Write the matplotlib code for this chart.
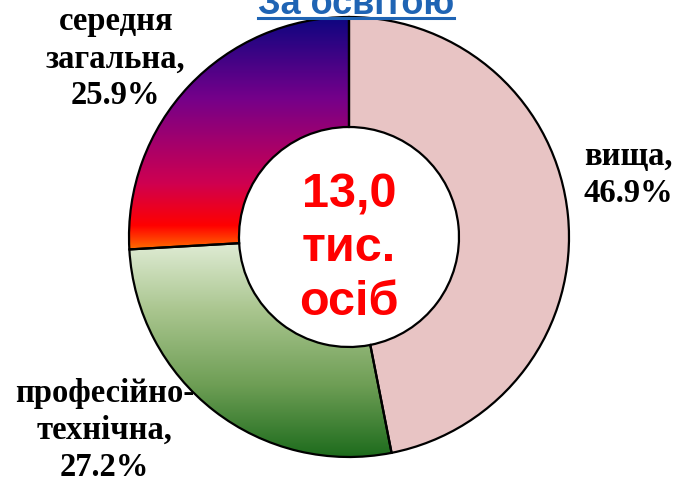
import numpy as np
import matplotlib.pyplot as plt
from matplotlib.colors import LinearSegmentedColormap
from matplotlib.lines import Line2D

# Data
categories = ['вища', 'професійно-\nтехнічна', 'середня\nзагальна']
shares = [46.9, 27.2, 25.9]
total_label = '13,0\nтис.\nосіб'
title = 'За освітою'

# label centres (data units, radius of ring = 1)
label_xy = [(1.27, 0.28), (-1.11, -0.88), (-1.06, 0.81)]

# fills: solid pink, green gradient, navy-red-orange gradient (top -> bottom)
pink = '#E8C4C4'
green_stops = ['#E4EFDA', '#A9C58E', '#6E9E55', '#1B6A1B']
dark_stops = [(0.0, '#0C0680'), (0.35, '#74008A'), (0.72, '#CF0050'),
              (0.9, '#FF0000'), (1.0, '#FF6A00')]

W, H = 677, 482
cx, cy, R = 349, 237, 220   # pixel centre and radius of the ring

fig = plt.figure(figsize=(W / 100, H / 100), dpi=100)
ax = fig.add_axes([0, 0, 1, 1])

wedges, _ = ax.pie(shares, startangle=90, counterclock=False, radius=1,
                   colors=[pink, 'none', 'none'],
                   wedgeprops=dict(width=0.5, edgecolor='black', linewidth=1.6))


def gradient_fill(wedge, cmap):
    v = wedge.get_path().vertices
    x0, x1 = v[:, 0].min(), v[:, 0].max()
    y0, y1 = v[:, 1].min(), v[:, 1].max()
    grad = np.linspace(0, 1, 256).reshape(-1, 1)
    # row 0 (start of colormap) goes on top
    im = ax.imshow(grad, cmap=cmap, aspect='auto', extent=[x0, x1, y0, y1],
                   origin='upper', zorder=wedge.get_zorder() - 0.1,
                   interpolation='bilinear')
    im.set_clip_path(wedge)


gradient_fill(wedges[1], LinearSegmentedColormap.from_list('g', green_stops))
gradient_fill(wedges[2], LinearSegmentedColormap.from_list('d', dark_stops))

ax.set_xlim(-cx / R, (W - cx) / R)
ax.set_ylim(-(H - cy) / R, cy / R)
ax.set_aspect('auto')
ax.axis('off')

for name, val, (lx, ly) in zip(categories, shares, label_xy):
    ax.text(lx, ly, f'{name},\n{val:.1f}%', ha='center', va='center',
            multialignment='center', fontsize=23.5, fontweight='bold',
            family='Liberation Serif', linespacing=1.25, color='black')

ax.text(0, -0.052, total_label, ha='center', va='center',
        multialignment='center', fontsize=35, fontweight='bold',
        family='Liberation Sans', color='#FF0000', linespacing=1.25)

t = fig.text(356 / W, 1 - 14 / H, title, ha='center', va='baseline',
             fontsize=26, fontweight='bold', family='Liberation Sans',
             color='#1F64B4')
fig.canvas.draw()
bb = t.get_window_extent().transformed(fig.transFigure.inverted())
fig.add_artist(Line2D([bb.x0, bb.x1], [1 - 17.5 / H] * 2, color='#1F64B4',
                      linewidth=2.2, transform=fig.transFigure))

fig.savefig('out.png', dpi=100)
